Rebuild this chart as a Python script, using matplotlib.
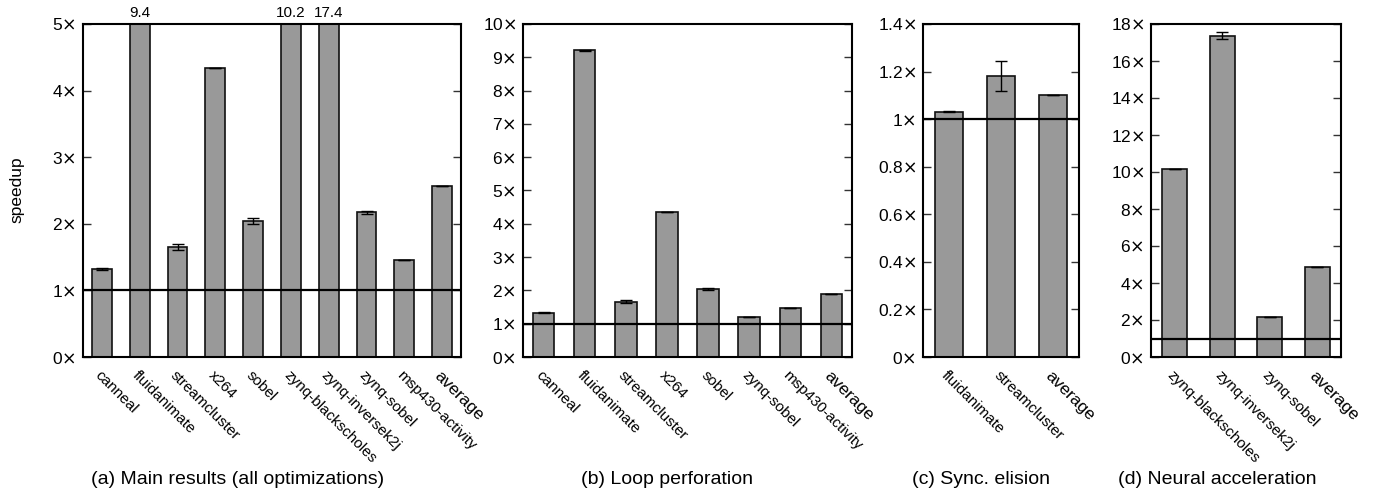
import matplotlib.pyplot as plt
from matplotlib.ticker import FuncFormatter

plt.rcParams['font.family'] = ['Liberation Sans', 'DejaVu Sans']
plt.rcParams['mathtext.fontset'] = 'dejavusans'

# (a) Main results
a_names = ["canneal", "fluidanimate", "streamcluster", "x264", "sobel",
           "zynq-blackscholes", "zynq-inversek2j", "zynq-sobel", "msp430-activity", "average"]
a_vals = [1.32, 9.4, 1.65, 4.34, 2.04, 10.2, 17.4, 2.17, 1.46, 2.57]
a_err = [0.01, 0.0, 0.05, 0.0, 0.04, 0.0, 0.0, 0.02, 0.0, 0.0]

# (b) Loop perforation
b_names = ["canneal", "fluidanimate", "streamcluster", "x264", "sobel",
           "zynq-sobel", "msp430-activity", "average"]
b_vals = [1.33, 9.21, 1.66, 4.35, 2.04, 1.21, 1.47, 1.90]
b_err = [0.01, 0.02, 0.05, 0.01, 0.04, 0.0, 0.01, 0.0]

# (c) Sync. elision
c_names = ["fluidanimate", "streamcluster", "average"]
c_vals = [1.031, 1.181, 1.101]
c_err = [0.003, 0.063, 0.0]

# (d) Neural acceleration
d_names = ["zynq-blackscholes", "zynq-inversek2j", "zynq-sobel", "average"]
d_vals = [10.18, 17.37, 2.17, 4.85]
d_err = [0.0, 0.2, 0.0, 0.0]

W, H = 1375, 493
fig = plt.figure(figsize=(W / 100, H / 100), dpi=100)

top, bottom = 24, 357
panels = [
    (a_names, a_vals, a_err, 83, 461, 5, 1, "(a) Main results (all optimizations)", 238),
    (b_names, b_vals, b_err, 523, 852, 10, 1, "(b) Loop perforation", 667),
    (c_names, c_vals, c_err, 923, 1079, 1.4, 0.2, "(c) Sync. elision", 981),
    (d_names, d_vals, d_err, 1151, 1341, 18, 2, "(d) Neural acceleration", 1217),
]


def fmt(v, pos):
    s = ("%.1f" % v).rstrip("0").rstrip(".")
    return s + r"$\times$"


for names, vals, errs, x0, x1, ymax, step, caption, cx in panels:
    ax = fig.add_axes([x0 / W, 1 - bottom / H, (x1 - x0) / W, (bottom - top) / H])
    xs = list(range(len(names)))
    ax.bar(xs, vals, width=0.52, color="#999999", edgecolor="#111111", linewidth=1.2, zorder=2)
    ax.errorbar(xs, vals, yerr=errs, fmt="none", ecolor="black", elinewidth=1,
                capsize=4, capthick=1, zorder=3)
    ax.axhline(1, color="black", linewidth=1.6, zorder=4)
    ax.set_xlim(-0.5, len(names) - 0.5)
    ax.set_ylim(0, ymax)
    n = int(round(ymax / step))
    ax.set_yticks([i * step for i in range(n + 1)])
    ax.yaxis.set_major_formatter(FuncFormatter(fmt))
    ax.tick_params(axis="y", direction="in", length=6, width=1, color="#333333",
                   right=True, labelsize=12.5, pad=5)
    ax.tick_params(axis="x", length=0, pad=8)
    ax.set_xticks(xs)
    ax.set_xticklabels(names, rotation=-45, ha="left", va="top",
                       rotation_mode="anchor", fontsize=11)
    for lbl in ax.get_xticklabels():
        if lbl.get_text() == "average":
            lbl.set_fontsize(12.5)
    for sp in ax.spines.values():
        sp.set_linewidth(1.5)
    # values of bars clipped by the axis top
    for x, v in zip(xs, vals):
        if v > ymax:
            ax.annotate("%.1f" % v, (x, ymax), xytext=(0, 3), textcoords="offset points",
                        ha="center", va="bottom", fontsize=11, annotation_clip=False)
    fig.text(cx / W, 1 - 480 / H, caption, ha="center", va="center", fontsize=14)

fig.text(17 / W, 1 - 190 / H, "speedup", rotation=90, ha="center", va="center", fontsize=12.5)

fig.savefig("out.png", dpi=100)
